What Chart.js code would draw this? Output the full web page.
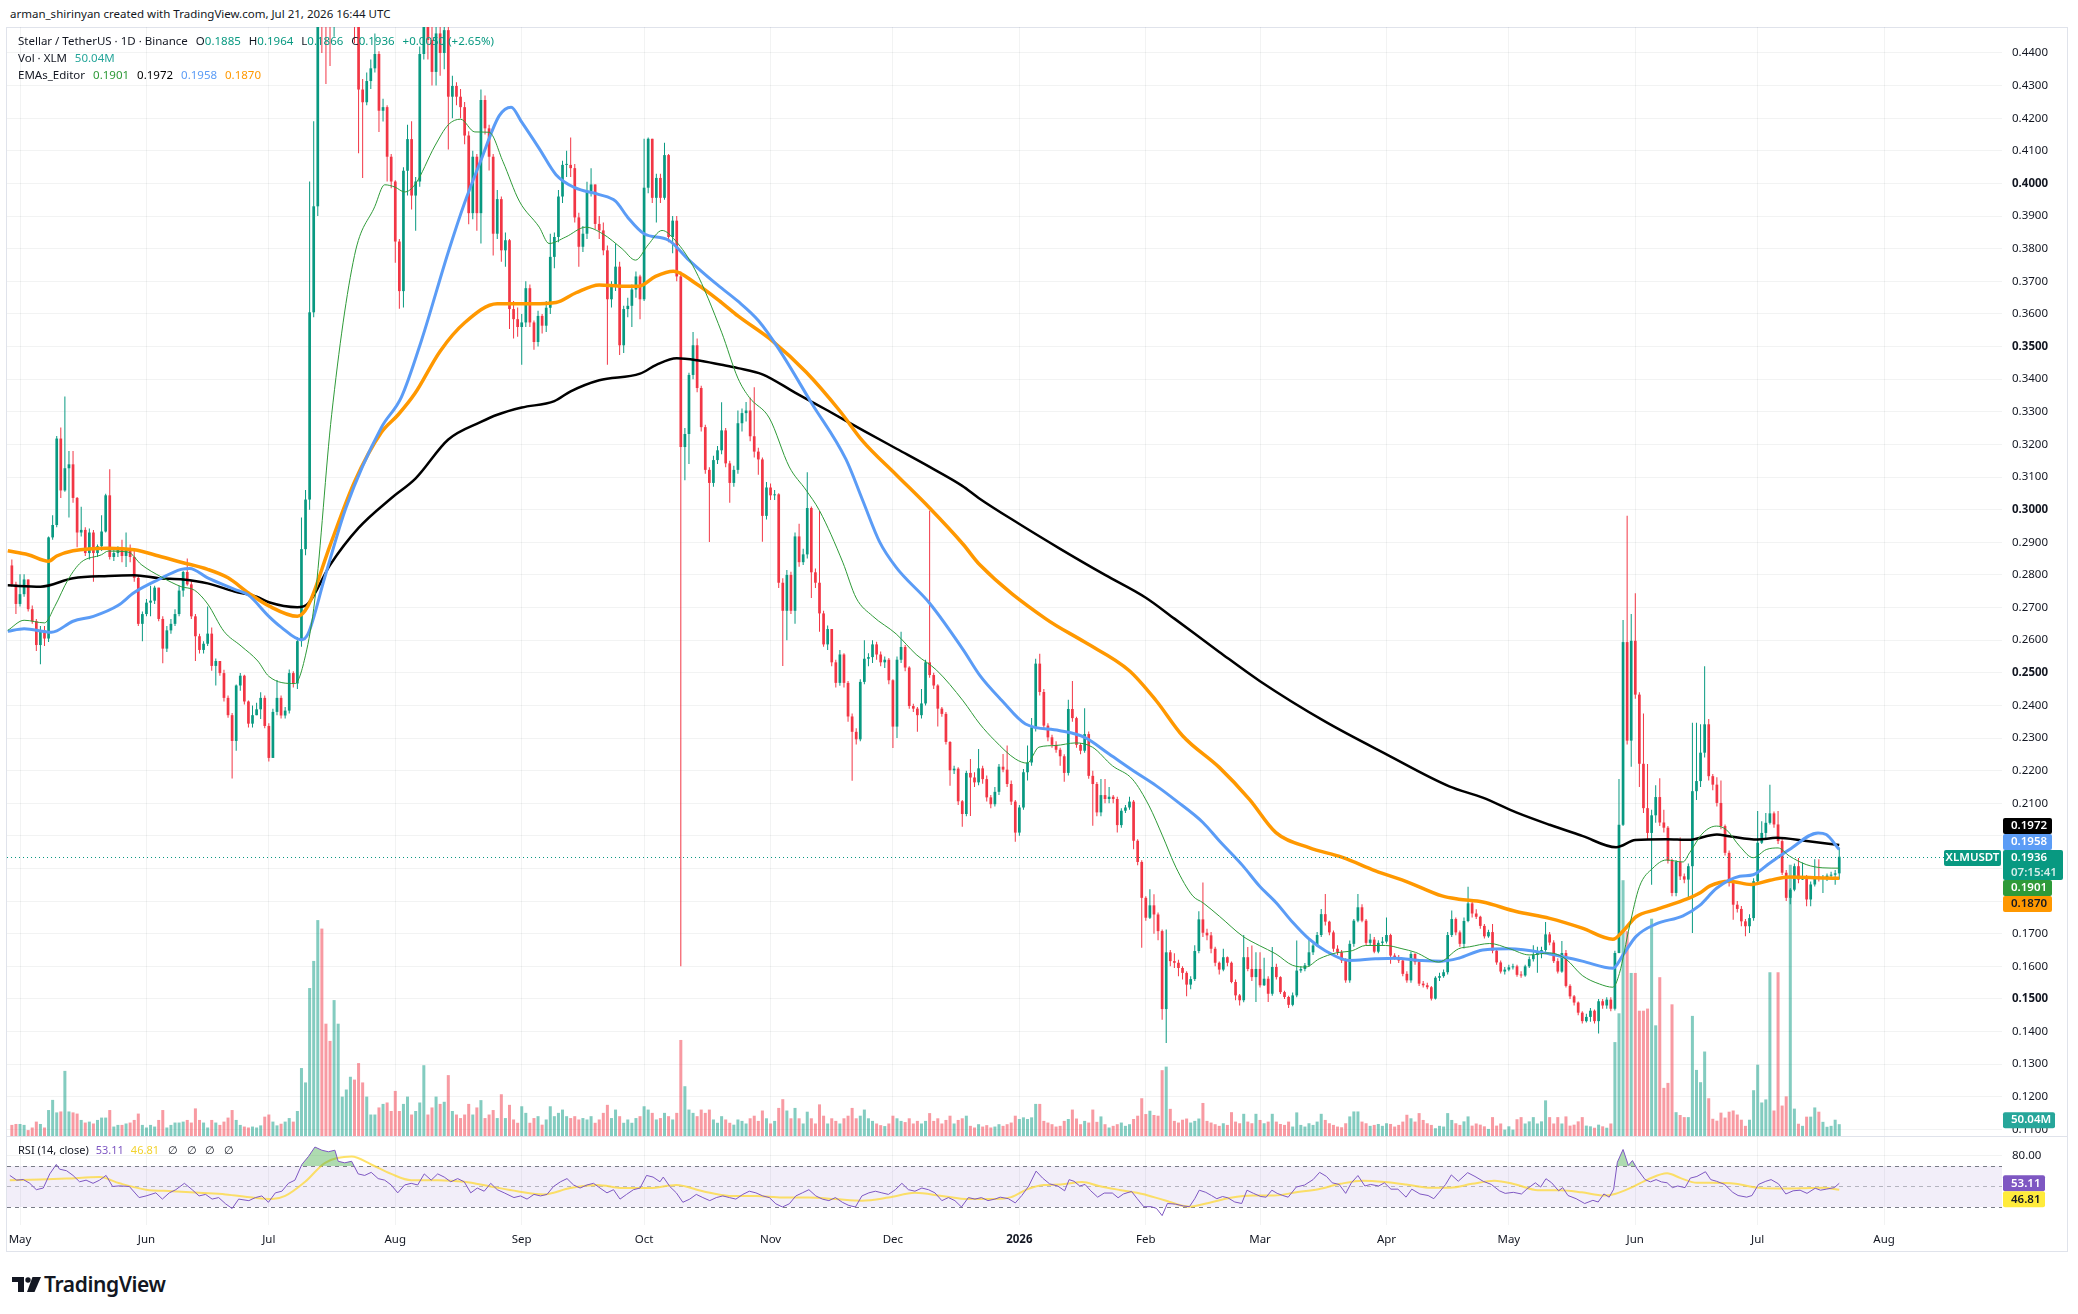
<!DOCTYPE html>
<html lang="en">
<head>
<meta charset="utf-8">
<title>Stellar / TetherUS 1D</title>
<script src="https://cdn.jsdelivr.net/npm/chart.js@4.4.1/dist/chart.umd.min.js"></script>
<style>
  html, body { margin: 0; padding: 0; background: #ffffff; }
  body {
    width: 2078px; height: 1314px; position: relative; overflow: hidden;
    font-family: "Noto Sans", "Open Sans", sans-serif; color: #131722;
  }
  .abs { position: absolute; }
  #header { left: 10px; top: 6px; font-size: 11.5px; white-space: nowrap; }
  #frame { left: 6px; top: 27px; width: 2062px; height: 1225px; border: 1px solid #e0e3eb; box-sizing: border-box; }
  #paneLine { left: 6px; top: 1136px; width: 2062px; height: 1px; background: #e0e3eb; }
  #mainBox { left: 7px; top: 27px; width: 2061px; height: 1109px; }
  #rsiBox { left: 7px; top: 1137px; width: 2061px; height: 115px; }
  #legend { left: 18px; top: 32px; font-size: 11.5px; line-height: 17px; white-space: nowrap; z-index: 3; }
  #legend .g { color: #089981; }
  #legend span.k { margin-left: 8px; }
  #rsiLegend { left: 18px; top: 1142px; font-size: 11px; line-height: 16px; white-space: nowrap; z-index: 3; }
  #logo { left: 12px; top: 1277px; }
  #logoText { left: 44px; top: 1270px; font-size: 21px; line-height: 28px; font-weight: 600; letter-spacing: -0.4px; }
</style>
</head>
<body>
<div id="header" class="abs">arman_shirinyan created with TradingView.com, Jul 21, 2026 16:44 UTC</div>
<div id="frame" class="abs"></div>
<div id="mainBox" class="abs"><canvas id="mainChart"></canvas></div>
<div id="paneLine" class="abs"></div>
<div id="rsiBox" class="abs"><canvas id="rsiChart"></canvas></div>
<div id="legend" class="abs">
  <div>Stellar / TetherUS · 1D · Binance<span class="k">O</span><span class="g">0.1885</span><span class="k">H</span><span class="g">0.1964</span><span class="k">L</span><span class="g">0.1866</span><span class="k">C</span><span class="g">0.1936</span><span class="k g">+0.0050 (+2.65%)</span></div>
  <div>Vol · XLM<span class="k" style="color:#26a69a">50.04M</span></div>
  <div>EMAs_Editor<span class="k" style="color:#2e9a38">0.1901</span><span class="k" style="color:#000000">0.1972</span><span class="k" style="color:#5b9cf6">0.1958</span><span class="k" style="color:#ff9800">0.1870</span></div>
</div>
<div id="rsiLegend" class="abs">RSI (14, close)<span style="margin-left:7px;color:#7e57c2">53.11</span><span style="margin-left:7px;color:#f2d22e">46.81</span><span style="margin-left:9px">∅&nbsp;&nbsp;&nbsp;∅&nbsp;&nbsp;&nbsp;∅&nbsp;&nbsp;&nbsp;∅</span></div>
<svg id="logo" class="abs" width="30" height="15" viewBox="0 0 30 15">
  <path d="M0 0 H12 V15 H6 V5 H0 Z" fill="#131722"/>
  <circle cx="16" cy="3" r="2.7" fill="#131722"/>
  <path d="M20.5 0 H29 L22.5 15 H15 Z" fill="#131722"/>
</svg>
<div id="logoText" class="abs">TradingView</div>

<script>
// day index 0 = 1 May 2025, one candle per day, first candle is day -2
const startDay = -2;
const firstOpen = .2829;

const closes = [
  .2771,.2711,.2741,.2786,.2695,.2658,.2585,.2630,.2605,.2915,
  .2953,.3218,.3059,.3127,.3139,.3036,.2930,.2938,.2867,.2930,
  .2867,.2888,.2933,.3044,.2855,.2867,.2882,.2858,.2882,.2855,
  .2791,.2650,.2680,.2715,.2721,.2761,.2665,.2574,.2630,.2650,
  .2680,.2752,.2809,.2771,.2673,.2612,.2570,.2589,.2620,.2521,
  .2536,.2499,.2423,.2370,.2291,.2461,.2491,.2412,.2344,.2370,
  .2388,.2423,.2337,.2239,.2380,.2423,.2369,.2384,.2499,.2467,
  .2597,.2879,.3031,.3605,.3930,.4700,.4600,.4520,.4480,.4650,
  .4780,.4790,.4820,.4850,.4700,.4288,.4249,.4314,.4353,.4397,
  .4223,.4234,.4082,.4006,.3822,.3670,.4039,.4136,.3963,.4006,
  .4397,.4483,.4440,.4342,.4460,.4400,.4470,.4266,.4299,.4266,
  .4234,.4147,.3909,.4082,.3909,.4256,.4169,.4082,.3846,.3952,
  .3795,.3826,.3615,.3584,.3560,.3574,.3679,.3574,.3514,.3594,
  .3564,.3619,.3775,.3836,.3960,.4057,.4057,.4047,.3896,.3806,
  .3846,.3977,.3997,.3876,.3856,.3795,.3645,.3685,.3745,.3504,
  .3615,.3625,.3675,.3715,.3645,.3987,.4137,.3956,.4017,.3956,
  .4087,.3836,.3886,.3715,.3192,.3232,.3413,.3504,.3373,.3253,
  .3122,.3082,.3152,.3182,.3243,.3142,.3082,.3122,.3265,.3296,
  .3304,.3225,.3178,.3154,.2981,.3068,.3044,.3047,.2776,.2690,
  .2800,.2690,.2918,.2839,.2863,.3005,.2808,.2776,.2682,.2587,
  .2634,.2532,.2469,.2556,.2469,.2366,.2319,.2296,.2472,.2543,
  .2548,.2587,.2556,.2532,.2540,.2477,.2335,.2540,.2579,.2516,
  .2398,.2390,.2370,.2406,.2532,.2493,.2461,.2390,.2374,.2288,
  .2201,.2206,.2106,.2067,.2193,.2179,.2164,.2207,.2174,.2118,
  .2097,.2135,.2212,.2203,.2159,.2105,.2010,.2087,.2195,.2225,
  .2333,.2528,.2441,.2338,.2302,.2279,.2264,.2244,.2193,.2389,
  .2361,.2279,.2261,.2312,.2184,.2159,.2072,.2125,.2113,.2120,
  .2113,.2033,.2077,.2087,.2105,.1985,.1920,.1810,.1749,.1787,
  .1759,.1708,.1469,.1643,.1616,.1611,.1595,.1580,.1544,.1561,
  .1647,.1744,.1703,.1695,.1654,.1611,.1590,.1628,.1611,.1552,
  .1511,.1496,.1628,.1592,.1567,.1592,.1542,.1562,.1516,.1598,
  .1567,.1521,.1506,.1482,.1511,.1587,.1592,.1603,.1643,.1664,
  .1696,.1760,.1737,.1704,.1654,.1643,.1618,.1557,.1669,.1740,
  .1781,.1740,.1672,.1682,.1645,.1672,.1676,.1696,.1633,.1628,
  .1618,.1577,.1557,.1638,.1613,.1547,.1542,.1536,.1501,.1565,
  .1570,.1582,.1696,.1745,.1704,.1669,.1739,.1793,.1762,.1752,
  .1724,.1692,.1705,.1648,.1612,.1584,.1590,.1597,.1600,.1574,
  .1572,.1600,.1622,.1635,.1641,.1650,.1698,.1673,.1616,.1584,
  .1641,.1540,.1508,.1489,.1458,.1432,.1445,.1464,.1432,.1493,
  .1480,.1498,.1470,.1641,.2034,.2594,.2292,.2598,.2433,.2221,
  .2085,.2009,.2063,.2119,.2041,.2025,.1924,.1825,.1920,.1876,
  .1866,.1907,.2137,.2168,.2255,.2342,.2183,.2157,.2101,.2030,
  .1948,.1856,.1789,.1776,.1738,.1723,.1748,.1861,.1979,.2009,
  .2040,.2069,.2035,.1984,.1887,.1810,.1835,.1907,.1866,.1876,
  .1805,.1851,.1876,.1868,.1871,.1878,.1881,.1885,.1936
];

const highs = [
  .2847,.2779,.2802,.2802,.2752,.2706,.2665,.2643,.2643,.2918,
  .2983,.3226,.3252,.3347,.3180,.3180,.3039,.3009,.2946,.2942,
  .2938,.2893,.2983,.3049,.3124,.2885,.2888,.2908,.2930,.2893,
  .2873,.2797,.2688,.2726,.2767,.2767,.2741,.2673,.2643,.2665,
  .2695,.2767,.2812,.2850,.2782,.2680,.2620,.2597,.2703,.2639,
  .2544,.2533,.2509,.2430,.2377,.2464,.2499,.2494,.2415,.2400,
  .2408,.2440,.2430,.2345,.2390,.2478,.2430,.2395,.2510,.2505,
  .2610,.2976,.3060,.4006,.4191,.4900,.5200,.4800,.4650,.4750,
  .4950,.4900,.4950,.4980,.4900,.4720,.4320,.4340,.4380,.4460,
  .4405,.4260,.4240,.4090,.4010,.3830,.4050,.4180,.4191,.4020,
  .4420,.4560,.4600,.4510,.4530,.4520,.4560,.4500,.4330,.4310,
  .4290,.4250,.4160,.4100,.4090,.4288,.4270,.4180,.4090,.3980,
  .3960,.3850,.3830,.3640,.3620,.3600,.3700,.3690,.3580,.3610,
  .3600,.3640,.3846,.3850,.3980,.4070,.4100,.4141,.4060,.3910,
  .3870,.4005,.4047,.3997,.3900,.3880,.3810,.3700,.3816,.3760,
  .3625,.3650,.3690,.3730,.3720,.4137,.4141,.4137,.4030,.4030,
  .4125,.4090,.3900,.3900,.3730,.3250,.3420,.3545,.3525,.3380,
  .3260,.3130,.3165,.3195,.3329,.3250,.3150,.3135,.3304,.3310,
  .3330,.3344,.3375,.3190,.3160,.3085,.3080,.3060,.3050,.2790,
  .2815,.2810,.2930,.2957,.2880,.3115,.3010,.2820,.2997,.2690,
  .2645,.2626,.2540,.2570,.2560,.2475,.2375,.2330,.2480,.2600,
  .2560,.2600,.2595,.2565,.2550,.2545,.2480,.2550,.2626,.2585,
  .2520,.2405,.2395,.2450,.2540,.2997,.2500,.2465,.2395,.2380,
  .2290,.2215,.2210,.2110,.2200,.2236,.2195,.2266,.2215,.2185,
  .2125,.2150,.2220,.2251,.2277,.2170,.2110,.2095,.2205,.2277,
  .2361,.2543,.2558,.2450,.2345,.2310,.2290,.2270,.2250,.2417,
  .2475,.2365,.2285,.2391,.2320,.2200,.2165,.2174,.2174,.2150,
  .2125,.2120,.2085,.2095,.2120,.2110,.1990,.1925,.1815,.1836,
  .1821,.1765,.1713,.1713,.1650,.1640,.1620,.1600,.1585,.1570,
  .1665,.1769,.1857,.1715,.1705,.1660,.1615,.1654,.1630,.1615,
  .1560,.1515,.1696,.1659,.1664,.1643,.1643,.1626,.1570,.1659,
  .1608,.1570,.1525,.1510,.1520,.1679,.1600,.1610,.1682,.1670,
  .1705,.1776,.1822,.1740,.1710,.1665,.1650,.1625,.1679,.1745,
  .1822,.1790,.1745,.1700,.1690,.1680,.1690,.1750,.1700,.1640,
  .1635,.1625,.1585,.1645,.1640,.1620,.1555,.1550,.1540,.1570,
  .1580,.1590,.1705,.1771,.1750,.1710,.1750,.1844,.1800,.1775,
  .1755,.1730,.1712,.1730,.1652,.1618,.1598,.1605,.1608,.1605,
  .1585,.1605,.1630,.1665,.1660,.1660,.1736,.1705,.1680,.1625,
  .1678,.1650,.1545,.1512,.1492,.1462,.1455,.1472,.1468,.1500,
  .1500,.1505,.1505,.1648,.2174,.2662,.2981,.2680,.2744,.2440,
  .2375,.2220,.2080,.2155,.2177,.2080,.2030,.1930,.1925,.1995,
  .1885,.1915,.2347,.2347,.2342,.2520,.2358,.2190,.2180,.2170,
  .2035,.1955,.1860,.1800,.1785,.1745,.1760,.1870,.2076,.2045,
  .2070,.2157,.2075,.2076,.1990,.1895,.1840,.1915,.1932,.1918,
  .1880,.1860,.1928,.1928,.1880,.1885,.1890,.1895,.1964
];

const lows = [
  .2764,.2680,.2703,.2733,.2688,.2650,.2567,.2526,.2582,.2594,
  .2908,.2946,.3036,.3055,.2976,.3021,.2885,.2918,.2858,.2847,
  .2779,.2855,.2873,.2930,.2847,.2843,.2855,.2839,.2824,.2839,
  .2779,.2643,.2597,.2673,.2673,.2711,.2658,.2529,.2564,.2620,
  .2643,.2673,.2733,.2767,.2665,.2536,.2559,.2559,.2582,.2506,
  .2461,.2491,.2412,.2362,.2176,.2261,.2445,.2403,.2332,.2332,
  .2370,.2358,.2330,.2228,.2250,.2370,.2360,.2360,.2375,.2455,
  .2450,.2580,.2860,.3000,.3590,.3900,.4400,.4305,.4360,.4450,
  .4600,.4620,.4650,.4680,.4430,.4093,.4017,.4240,.4290,.4340,
  .4158,.4190,.4006,.3985,.3757,.3616,.3620,.3963,.3920,.3855,
  .3990,.4380,.4380,.4300,.4300,.4330,.4350,.4104,.4200,.4240,
  .4200,.4120,.3875,.3890,.3855,.3816,.4150,.4040,.3779,.3830,
  .3760,.3745,.3554,.3525,.3530,.3444,.3560,.3560,.3490,.3500,
  .3540,.3545,.3600,.3740,.3820,.3940,.4020,.4020,.3880,.3745,
  .3790,.3830,.3960,.3860,.3830,.3780,.3444,.3620,.3670,.3474,
  .3480,.3590,.3560,.3650,.3584,.3640,.3970,.3940,.3880,.3940,
  .3950,.3820,.3786,.3700,.1600,.3090,.3140,.3400,.3360,.3240,
  .3110,.2901,.3070,.3140,.3170,.3130,.3021,.3070,.3110,.3240,
  .3270,.3210,.3160,.3107,.2902,.2970,.3030,.3030,.2760,.2521,
  .2600,.2680,.2650,.2825,.2830,.2850,.2729,.2760,.2626,.2580,
  .2570,.2520,.2455,.2460,.2455,.2350,.2169,.2280,.2290,.2465,
  .2520,.2530,.2540,.2520,.2515,.2465,.2269,.2300,.2530,.2505,
  .2390,.2380,.2319,.2360,.2400,.2485,.2450,.2335,.2365,.2280,
  .2154,.2190,.2095,.2028,.2060,.2061,.2150,.2155,.2160,.2105,
  .2085,.2090,.2125,.2195,.2150,.2095,.1982,.2000,.2080,.2170,
  .2215,.2320,.2430,.2330,.2290,.2270,.2255,.2215,.2166,.2185,
  .2350,.2270,.2250,.2255,.2175,.2031,.2060,.2060,.2100,.2100,
  .2100,.2010,.2025,.2070,.2080,.1959,.1910,.1657,.1740,.1745,
  .1700,.1680,.1436,.1365,.1600,.1595,.1570,.1560,.1508,.1530,
  .1555,.1640,.1690,.1680,.1640,.1600,.1575,.1585,.1600,.1548,
  .1496,.1480,.1490,.1585,.1555,.1491,.1535,.1540,.1491,.1510,
  .1560,.1515,.1500,.1472,.1478,.1505,.1580,.1585,.1598,.1635,
  .1660,.1690,.1725,.1695,.1645,.1635,.1610,.1550,.1550,.1660,
  .1735,.1735,.1665,.1665,.1640,.1640,.1665,.1670,.1608,.1620,
  .1610,.1570,.1550,.1550,.1605,.1540,.1535,.1530,.1495,.1498,
  .1555,.1565,.1575,.1690,.1695,.1660,.1655,.1735,.1750,.1745,
  .1715,.1685,.1688,.1640,.1605,.1578,.1575,.1585,.1590,.1568,
  .1565,.1568,.1595,.1615,.1580,.1625,.1645,.1665,.1610,.1578,
  .1580,.1535,.1500,.1480,.1450,.1425,.1428,.1430,.1425,.1394,
  .1470,.1470,.1462,.1465,.1640,.2030,.2280,.2212,.2420,.2150,
  .2070,.1990,.1850,.2040,.2030,.2010,.1915,.1815,.1815,.1865,
  .1855,.1812,.1702,.2110,.2150,.2240,.2170,.2140,.2090,.2020,
  .1940,.1845,.1743,.1765,.1723,.1692,.1702,.1740,.1855,.1975,
  .1990,.2035,.2025,.1975,.1880,.1800,.1790,.1830,.1855,.1865,
  .1784,.1784,.1845,.1860,.1825,.1862,.1870,.1850,.1866
];

// volume in millions of XLM
const volumes = [
  47,51,51,47,25,36,61,51,36,110,
  153,100,104,276,104,100,95,68,57,61,
  53,68,78,78,110,40,47,47,53,57,
  68,95,47,36,47,40,68,110,36,47,
  57,57,61,68,57,117,68,57,36,68,
  57,47,61,78,110,68,47,40,36,40,
  36,45,82,91,61,45,52,61,76,61,
  106,288,227,627,742,915,879,476,403,576,
  476,167,197,251,239,309,227,167,91,91,
  121,136,142,106,191,106,136,167,91,106,
  142,300,91,121,167,136,145,258,106,91,
  76,91,136,91,121,152,76,91,110,76,
  177,76,132,70,56,126,98,56,76,84,
  48,70,126,84,98,112,84,76,84,70,
  76,70,84,56,70,98,132,76,112,84,
  56,70,56,76,84,126,112,98,70,76,
  98,84,70,98,407,211,112,98,84,112,
  98,112,70,56,84,70,56,48,70,64,
  53,75,86,64,108,75,53,64,119,156,
  108,75,119,75,53,103,75,53,134,86,
  53,75,64,53,75,86,119,75,86,112,
  75,64,53,46,42,53,86,75,64,59,
  75,53,64,53,64,97,64,75,53,68,
  86,53,68,75,86,43,36,50,40,46,
  36,40,50,43,50,57,86,72,79,72,
  79,136,136,64,57,50,40,43,64,72,
  112,74,50,64,57,112,60,83,50,36,
  43,50,57,43,50,72,86,160,93,107,
  89,86,279,294,115,64,57,69,74,57,
  64,74,140,64,57,50,43,54,47,101,
  61,54,94,61,54,94,68,54,61,94,
  61,51,47,61,40,100,47,40,54,47,
  61,94,68,54,47,40,37,54,83,104,
  104,61,54,43,47,51,43,54,51,40,
  47,61,90,75,61,97,68,54,47,33,
  43,40,97,68,54,47,62,83,44,53,
  48,41,30,80,44,53,27,41,27,71,
  80,53,62,80,53,62,151,80,53,80,
  53,83,44,48,62,80,44,41,35,48,
  41,35,53,398,520,1084,868,691,691,531,
  531,540,921,469,673,204,225,558,101,89,
  80,80,509,280,228,358,160,73,65,99,
  78,103,108,91,69,43,69,194,302,142,
  155,694,108,694,129,168,1150,116,52,43,
  82,82,121,103,60,39,43,69,50.04
];

// moving averages as [day, value]
const ema20 = [
  [-3,.2630],[1,.2661],[6,.2653],[8.5,.2703],[11.8,.2786],[15,.2839],[20,.2862],[21.6,.2873],[26.5,.2870],
  [29.7,.2832],[34.6,.2794],[39.5,.2764],[42.8,.2753],[46,.2711],[50,.2627],[54.2,.2582],[58.3,.2536],
  [61,.2489],[67.4,.2467],[70,.2554],[72.3,.2727],[76.4,.3291],[82,.3779],[87,.3930],[89.4,.3996],
  [91.9,.3989],[94.3,.3974],[96.8,.3996],[101.7,.4115],[105,.4180],[108,.4197],[111.5,.4158],[115,.4157],
  [118.4,.4067],[122.4,.3946],[127.3,.3866],[129.7,.3816],[133.8,.3836],[138.7,.3866],[142.8,.3846],
  [147.6,.3800],[150.9,.3765],[154,.3812],[157.4,.3856],[160.6,.3826],[165.5,.3735],[172,.3544],
  [176,.3403],[178.8,.3344],[183.7,.3281],[188.6,.3131],[192.7,.3060],[196,.2997],[201.7,.2839],
  [205,.2729],[209,.2674],[214.8,.2619],[219.7,.2556],[224.7,.2508],[231.2,.2414],[235.3,.2343],
  [239,.2292],[244,.2236],[246.9,.2223],[249.8,.2272],[253.9,.2277],[258.8,.2285],[262.9,.2272],
  [267.8,.2215],[272.7,.2174],[276.8,.2092],[280.1,.2000],[283.4,.1903],[287.5,.1816],[290,.1795],
  [294,.1754],[299.8,.1692],[303.8,.1664],[307.9,.1638],[312,.1603],[315.2,.1598],[318.5,.1623],
  [322.6,.1641],[326.6,.1648],[329.9,.1664],[334.8,.1664],[338.8,.1654],[342.1,.1643],[347.8,.1613],
  [352.7,.1654],[355.4,.1660],[360.3,.1670],[365.2,.1654],[370,.1635],[375,.1641],[379,.1622],
  [383,.1572],[387.2,.1546],[390.5,.1536],[392.1,.1578],[394.6,.1724],[397,.1844],[400.3,.1901],
  [403.6,.1926],[407.7,.1920],[409.3,.1948],[412.6,.2009],[415.9,.2030],[418.3,.2019],[421.6,.1968],
  [424.9,.1933],[428.1,.1958],[431,.1963],[433.8,.1938],[437.9,.1912],[442,.1902],[446,.1901]
];

const ema50 = [
  [-3,.2627],[1,.2635],[7.7,.2624],[13,.2658],[18,.2673],[24,.2706],[28,.2746],[34,.2786],[39.5,.2817],
  [41.6,.2820],[46,.2791],[52.6,.2756],[56,.2738],[61,.2673],[64,.2640],[69,.2601],[70.6,.2619],
  [74.7,.2792],[80,.3009],[88.6,.3252],[93.5,.3345],[98.4,.3518],[105,.3790],[109,.3941],[113,.4071],
  [117.5,.4208],[120.4,.4234],[123,.4188],[127.3,.4107],[131.4,.4027],[136,.3987],[142,.3966],
  [146,.3946],[149,.3896],[153,.3846],[159,.3826],[164,.3765],[170.4,.3695],[176,.3639],[181,.3580],
  [186,.3493],[194,.3328],[202.5,.3154],[206.6,.3028],[210.7,.2902],[214.8,.2823],[223,.2713],
  [231.2,.2571],[235.3,.2492],[240.7,.2415],[246.5,.2343],[254.7,.2323],[261,.2302],[267,.2251],
  [273.5,.2195],[278.5,.2154],[283.4,.2108],[290,.2041],[294,.1985],[299.8,.1908],[303.8,.1847],
  [307.9,.1796],[312,.1735],[316,.1684],[320,.1648],[325.8,.1618],[332.3,.1623],[337,.1625],
  [343.7,.1618],[348.6,.1616],[352.7,.1625],[358.6,.1650],[365,.1654],[375,.1638],[383,.1616],
  [390.5,.1594],[393,.1635],[396.2,.1692],[401.1,.1730],[407.7,.1755],[411.8,.1787],[416,.1840],
  [421.6,.1876],[424.9,.1881],[429,.1917],[433.8,.1958],[440.8,.2009],[442.8,.2004],[446,.1958]
];

const ema100 = [
  [-3,.2874],[2,.2862],[7,.2842],[9,.2858],[13,.2874],[21.6,.2882],[28,.2877],[34,.2858],[39.5,.2839],
  [46,.2817],[51,.2791],[56,.2745],[61,.2705],[68,.2673],[70.6,.2705],[76,.2890],[82,.3085],
  [88.6,.3237],[92.7,.3291],[96.8,.3356],[103,.3486],[109,.3573],[117,.3631],[125.7,.3631],
  [131.4,.3635],[136.3,.3665],[142,.3689],[147.6,.3685],[151.7,.3685],[155.8,.3715],[160.2,.3731],
  [165.5,.3695],[172,.3635],[176,.3594],[184.5,.3517],[192.7,.3422],[200.9,.3304],[206.6,.3210],
  [214.8,.3107],[223,.3005],[231.2,.2894],[235.3,.2831],[251.4,.2666],[261,.2594],[271.9,.2507],
  [278.5,.2415],[285,.2307],[294,.2210],[301.4,.2112],[307.9,.2010],[316,.1964],[324.2,.1934],
  [332.3,.1893],[340.5,.1857],[348.6,.1816],[352.7,.1806],[358.6,.1797],[366.8,.1768],[375,.1747],
  [383,.1717],[390.5,.1683],[393,.1708],[396.2,.1752],[401.1,.1774],[407.7,.1802],[411.8,.1825],
  [414.2,.1846],[419.1,.1861],[424.4,.1851],[429,.1864],[433.8,.1874],[442,.1871],[446,.1870]
];

const ema200 = [
  [-3,.2768],[5,.2764],[13,.2790],[21.6,.2797],[28,.2799],[34,.2790],[40,.2786],[46,.2774],[52.6,.2749],
  [58,.2733],[61,.2716],[68,.2701],[70.6,.2712],[76,.2830],[83,.2944],[91,.3035],[97,.3096],[105,.3215],
  [113,.3269],[117,.3291],[123,.3313],[131,.3333],[135,.3363],[142,.3397],[152,.3417],[156,.3444],
  [161,.3464],[166,.3458],[172,.3444],[176,.3434],[182,.3415],[190,.3359],[198,.3304],[207,.3241],
  [215,.3186],[223,.3131],[231,.3073],[235,.3036],[245,.2956],[255,.2880],[266,.2800],[276,.2730],
  [283,.2666],[294,.2564],[304,.2474],[320,.2350],[335,.2250],[350.4,.2152],[358.6,.2117],
  [366.8,.2072],[375,.2034],[383,.2000],[391.3,.1965],[396,.1987],[403.6,.1990],[409,.1988],
  [416,.2004],[419,.1999],[426,.1989],[430.6,.1994],[438,.1984],[446,.1972]
];

const rsiLine = [
  [-2.5,60.8],[-0.8,56.2],[0.8,56.8],[2.4,53.1],[4.0,46.9],[5.7,48.5],[7.3,62.3],[8.9,71.5],[9.7,66.9],
  [11.4,65.4],[13.0,60.8],[14.6,54.6],[16.2,56.2],[17.9,53.1],[19.5,56.2],[21.1,60.8],[22.7,50.0],
  [24.4,50.6],[26.8,50.0],[29.2,39.2],[30.9,40.8],[33.3,43.8],[34.9,37.7],[36.6,43.8],[38.2,46.9],
  [40.3,53.1],[42.2,46.9],[43.9,40.8],[45.5,42.3],[47.1,37.7],[48.7,39.2],[50.4,33.1],[52.0,28.5],
  [53.6,37.7],[56.1,36.2],[57.7,39.2],[59.3,40.8],[60.9,34.6],[62.6,43.8],[64.2,45.4],[65.8,53.1],
  [67.4,56.2],[69.1,71.5],[70.7,79.2],[72.3,88.5],[74.0,85.4],[75.6,83.9],[77.2,85.4],[78.0,74.6],
  [79.6,73.1],[81.3,74.6],[82.9,62.3],[84.5,60.8],[86.1,63.8],[87.8,57.7],[89.4,56.2],[91.0,51.5],
  [92.6,43.8],[94.3,51.5],[95.9,53.1],[97.5,51.5],[99.1,62.3],[100.8,56.2],[102.4,62.3],[104.0,59.2],
  [105.6,54.6],[107.3,57.7],[108.9,54.6],[110.5,43.8],[112.1,48.5],[113.8,45.4],[115.4,53.1],
  [117.0,46.9],[118.7,43.8],[121.1,39.2],[122.7,40.8],[124.3,37.7],[126.0,42.3],[127.6,40.8],
  [129.2,42.3],[130.8,50.0],[132.5,54.6],[134.1,57.7],[135.7,51.5],[137.3,48.5],[139.0,51.5],
  [140.6,53.1],[142.2,48.5],[143.9,43.8],[145.5,46.9],[147.1,37.7],[148.7,42.3],[150.4,46.9],
  [152.0,48.5],[153.6,60.8],[155.2,59.2],[156.9,54.6],[157.7,59.2],[159.3,50.0],[160.9,43.8],
  [162.5,34.6],[164.2,37.7],[165.8,42.3],[167.4,39.2],[169.1,36.2],[170.7,39.2],[172.3,40.8],
  [173.9,39.2],[175.5,37.7],[177.2,42.3],[178.8,45.4],[180.4,43.8],[182.1,40.8],[183.7,39.2],
  [185.3,33.1],[186.9,30.0],[188.6,33.1],[190.2,40.8],[191.8,43.8],[193.4,46.9],[195.1,40.8],
  [196.7,37.7],[198.3,36.2],[199.9,39.2],[201.6,34.6],[203.2,31.5],[204.8,30.0],[206.4,40.8],
  [208.1,43.8],[209.7,45.4],[211.3,43.8],[212.9,42.3],[214.6,46.9],[216.2,53.1],[217.8,46.9],
  [219.4,45.4],[221.1,48.5],[222.7,46.9],[224.3,43.8],[226.0,36.2],[227.6,39.2],[229.2,36.2],
  [230.8,30.0],[232.5,39.2],[234.1,37.7],[235.7,39.2],[237.3,36.2],[239.0,37.7],[240.3,39.6],
  [242.3,38.1],[244.0,34.0],[245.6,41.2],[247.3,50.5],[249.1,65.0],[250.7,58.2],[252.4,52.6],
  [254.4,50.5],[256.1,45.8],[257.2,56.7],[258.4,55.1],[259.8,50.5],[261.1,52.0],[262.5,45.8],
  [264.2,39.6],[265.8,43.6],[267.8,43.6],[269.2,39.0],[270.5,42.7],[272.5,45.2],[273.9,38.1],
  [275.5,30.3],[277.3,30.3],[278.6,28.7],[280.0,21.6],[281.3,33.4],[283.3,32.8],[285.3,30.9],
  [286.7,30.3],[288.0,38.1],[289.1,46.4],[290.7,44.3],[292.1,41.2],[293.4,38.1],[294.8,40.2],
  [296.1,39.0],[297.8,34.9],[299.5,33.4],[300.8,46.4],[302.4,43.3],[304.2,40.2],[305.5,39.6],
  [306.9,46.4],[308.2,43.3],[309.6,41.2],[310.9,39.6],[312.9,49.5],[314.9,51.4],[317.0,56.7],
  [318.6,63.8],[320.3,59.8],[321.7,53.6],[323.4,52.0],[325.0,43.3],[326.4,53.6],[328.0,60.7],
  [329.7,50.5],[331.1,52.0],[333.1,50.5],[334.5,53.6],[336.1,47.4],[337.8,47.4],[339.8,39.6],
  [341.2,47.4],[343.2,42.7],[345.2,41.2],[346.6,38.1],[347.9,44.3],[349.5,52.0],[350.9,61.3],
  [352.6,55.1],[354.9,63.5],[356.7,59.8],[358.7,55.1],[360.7,52.0],[362.7,45.8],[364.1,43.3],
  [366.1,44.3],[368.1,42.7],[369.4,47.4],[371.5,53.6],[372.8,49.5],[374.1,57.6],[375.5,53.6],
  [377.2,45.8],[378.2,48.9],[379.5,41.2],[381.5,38.1],[383.6,33.4],[385.6,36.5],[386.9,34.9],
  [388.3,42.7],[389.6,39.6],[390.7,47.4],[391.6,73.7],[393.0,86.1],[394.3,70.6],[395.3,75.3],
  [396.4,67.5],[398.4,56.7],[399.7,54.5],[401.1,56.7],[402.4,54.5],[403.8,53.6],[405.1,48.9],
  [406.4,50.5],[408.2,48.9],[409.5,58.2],[411.1,59.8],[413.2,64.4],[414.5,56.7],[415.9,55.1],
  [417.9,52.0],[419.9,44.3],[421.2,41.2],[423.3,39.6],[424.6,41.2],[426.2,52.0],[428.0,55.1],
  [429.3,56.7],[431.1,52.6],[432.9,42.7],[434.7,45.8],[436.4,46.4],[438.1,43.3],[440.1,48.3],
  [441.4,46.4],[442.8,47.4],[444.8,48.9],[446,53.11]
];

const rsiMa = [
  [-2.5,56.2],[4.9,56.8],[11.4,57.7],[19.5,59.2],[24.4,53.1],[30.9,46.9],[37.4,45.4],[43.9,43.8],
  [50.4,42.3],[56.9,39.2],[61.8,37.7],[65.0,40.8],[69.9,54.6],[74.8,73.1],[81.3,79.2],[86.1,71.5],
  [91.0,62.3],[95.9,56.2],[102.4,56.2],[108.9,54.6],[115.4,50.0],[121.9,45.4],[128.4,42.3],
  [134.9,48.5],[141.4,51.5],[147.9,48.5],[154.4,48.5],[160.9,51.5],[167.4,45.4],[173.9,40.8],
  [180.4,40.8],[186.9,39.2],[193.4,39.2],[199.9,37.7],[206.4,36.2],[212.9,39.2],[219.4,43.8],
  [226.0,40.8],[232.5,37.7],[239.0,37.7],[243.0,39.6],[247.0,47.4],[251.0,51.4],[255.1,52.0],
  [260.4,54.5],[264.5,50.5],[269.9,46.4],[275.2,42.7],[280.6,36.5],[286.7,30.3],[291.4,34.0],
  [296.8,39.0],[302.2,41.2],[307.5,41.2],[312.9,44.3],[318.3,47.4],[323.7,52.6],[329.1,55.7],
  [334.5,54.5],[339.8,52.0],[345.2,48.9],[350.6,48.9],[356.0,52.6],[361.4,55.7],[366.7,52.0],
  [372.1,46.4],[377.5,46.4],[382.9,44.3],[388.3,41.2],[391.0,42.7],[395.0,48.9],[399.0,56.7],
  [403.8,62.9],[407.1,58.2],[411.1,53.6],[415.2,53.6],[420.6,52.6],[425.9,48.9],[431.3,48.0],
  [436.7,48.3],[442.1,48.9],[446,46.81]
];

const monthStarts = [0, 31, 61, 92, 123, 153, 184, 214, 245, 276, 304, 335, 365, 396, 426, 457];
const monthLabels = ["May", "Jun", "Jul", "Aug", "Sep", "Oct", "Nov", "Dec", "2026", "Feb", "Mar", "Apr", "May", "Jun", "Jul", "Aug"];
const priceTicks = [
  0.11, 0.12, 0.13, 0.14, 0.15, 0.16, 0.17, 0.18, 0.19, 0.20, 0.21, 0.22,
  0.23, 0.24, 0.25, 0.26, 0.27, 0.28, 0.29, 0.30, 0.31, 0.32, 0.33, 0.34,
  0.35, 0.36, 0.37, 0.38, 0.39, 0.40, 0.41, 0.42, 0.43, 0.44
];
const rsiTicks = [80];
const countdown = "07:15:41";

const UP = "#089981";
const DOWN = "#f23645";
const UP_VOL = "rgba(8,153,129,0.5)";
const DOWN_VOL = "rgba(242,54,69,0.5)";
const GREEN = "#2e9a38";
const BLUE = "#5b9cf6";
const ORANGE = "#ff9800";
const GRID = "rgba(42,46,57,0.06)";
const FONT = '"Noto Sans", "Open Sans", sans-serif';
const X_MIN = -3.19;
const X_MAX = 485.9;

Chart.defaults.font.family = FONT;
Chart.defaults.color = "#131722";

const lastOf = (arr) => {
  const v = arr[arr.length - 1];
  return Array.isArray(v) ? v[1] : v;
};
const toPoints = (pairs) => pairs.map((p) => ({ x: p[0], y: p[1] }));

const candles = closes.map((c, i) => {
  const o = i === 0 ? firstOpen : closes[i - 1];
  return { x: startDay + i, o: o, c: c, h: highs[i] ?? Math.max(o, c), l: lows[i] ?? Math.min(o, c) };
});

const bodyData = candles.map((k) => ({ x: k.x, y: [k.o, k.c], up: k.c >= k.o }));
const wickData = candles.map((k) => ({
  x: k.x,
  y: [Math.min(k.l, k.o, k.c), Math.max(k.h, k.o, k.c)],
  up: k.c >= k.o,
}));
const volData = volumes.map((v, i) => ({ x: startDay + i, y: v, up: candles[i] ? candles[i].c >= candles[i].o : true }));

function drawTag(ctx, x, y, w, h, bg, lines, align) {
  ctx.fillStyle = bg;
  ctx.beginPath();
  if (ctx.roundRect) ctx.roundRect(x, y, w, h, 2);
  else ctx.rect(x, y, w, h);
  ctx.fill();
  ctx.font = "600 11.5px " + FONT;
  ctx.textBaseline = "middle";
  ctx.textAlign = align === "center" ? "center" : "left";
  lines.forEach((line, i) => {
    ctx.fillStyle = line[1];
    const tx = align === "center" ? x + w / 2 : x + 8;
    ctx.fillText(line[0], tx, y + 8 + i * 15);
  });
}

const priceTags = {
  id: "priceTags",
  afterDraw(chart) {
    const { ctx, chartArea: area, scales } = chart;
    const y = scales.y;
    const last = lastOf(closes);
    const py = Math.round(y.getPixelForValue(last));

    ctx.save();
    ctx.strokeStyle = UP;
    ctx.lineWidth = 1;
    ctx.setLineDash([1, 3]);
    ctx.beginPath();
    ctx.moveTo(area.left, py + 0.5);
    ctx.lineTo(area.right, py + 0.5);
    ctx.stroke();
    ctx.setLineDash([]);

    const left = area.right + 1;
    const top = py - 7;
    const emaTags = [
      { v: lastOf(ema200), bg: "#000000", fg: "#ffffff" },
      { v: lastOf(ema50), bg: BLUE, fg: "#ffffff" },
      { v: lastOf(ema20), bg: GREEN, fg: "#ffffff" },
      { v: lastOf(ema100), bg: ORANGE, fg: "#131722" },
    ];
    const above = emaTags.filter((t) => t.v >= last).sort((a, b) => a.v - b.v);
    const below = emaTags.filter((t) => t.v < last).sort((a, b) => b.v - a.v);

    let edge = top;
    above.forEach((t) => {
      const c = Math.min(y.getPixelForValue(t.v), edge - 8);
      drawTag(ctx, left, c - 8, 49, 16, t.bg, [[t.v.toFixed(4), t.fg]]);
      edge = c - 8;
    });
    edge = top + 30;
    below.forEach((t) => {
      const c = Math.max(y.getPixelForValue(t.v), edge + 8);
      drawTag(ctx, left, c - 8, 49, 16, t.bg, [[t.v.toFixed(4), t.fg]]);
      edge = c + 8;
    });

    drawTag(ctx, left, top, 60, 30, UP, [[last.toFixed(4), "#ffffff"], [countdown, "rgba(255,255,255,0.82)"]]);
    drawTag(ctx, area.right - 58, top, 57, 16, UP, [["XLMUSDT", "#ffffff"]], "center");

    const vol = lastOf(volumes);
    const vc = Math.min(scales.yVol.getPixelForValue(vol) - 4, area.bottom - 9);
    drawTag(ctx, left, vc - 8, 52, 16, "#26a69a", [[vol.toFixed(2) + "M", "#ffffff"]]);
    ctx.restore();
  },
};

const rsiDecor = {
  id: "rsiDecor",
  beforeDatasetsDraw(chart) {
    const { ctx, chartArea: a, scales } = chart;
    const y = scales.y;
    const y70 = y.getPixelForValue(70);
    const y50 = y.getPixelForValue(50);
    const y30 = y.getPixelForValue(30);
    ctx.save();
    ctx.fillStyle = "rgba(126,87,194,0.1)";
    ctx.fillRect(a.left, y70, a.right - a.left, y30 - y70);
    ctx.lineWidth = 1;
    ctx.setLineDash([4, 4]);
    ctx.strokeStyle = "#787b86";
    [y70, y30].forEach((yy) => {
      ctx.beginPath();
      ctx.moveTo(a.left, Math.round(yy) + 0.5);
      ctx.lineTo(a.right, Math.round(yy) + 0.5);
      ctx.stroke();
    });
    ctx.strokeStyle = "rgba(120,123,134,0.5)";
    ctx.beginPath();
    ctx.moveTo(a.left, Math.round(y50) + 0.5);
    ctx.lineTo(a.right, Math.round(y50) + 0.5);
    ctx.stroke();
    ctx.restore();
  },
  afterDraw(chart) {
    const { ctx, chartArea: a, scales } = chart;
    const y = scales.y;
    const left = a.right + 1;
    const rsiLast = lastOf(rsiLine);
    const maLast = lastOf(rsiMa);
    ctx.save();
    const c1 = y.getPixelForValue(rsiLast);
    drawTag(ctx, left, c1 - 8, 42, 16, "#7e57c2", [[rsiLast.toFixed(2), "#ffffff"]]);
    const c2 = Math.max(y.getPixelForValue(maLast), c1 + 16);
    drawTag(ctx, left, c2 - 8, 42, 16, "#ffeb3b", [[maLast.toFixed(2), "#131722"]]);
    ctx.restore();
  },
};

const monthTicks = (scale) => {
  scale.ticks = monthStarts.map((v) => ({ value: v }));
};

new Chart(document.getElementById("mainChart"), {
  type: "bar",
  data: {
    datasets: [
      {
        type: "line", label: "EMA 20", data: toPoints(ema20), borderColor: GREEN, borderWidth: 1,
        pointRadius: 0, cubicInterpolationMode: "monotone", order: 0,
      },
      {
        type: "line", label: "EMA 50", data: toPoints(ema50), borderColor: BLUE, borderWidth: 3,
        pointRadius: 0, cubicInterpolationMode: "monotone", order: 1,
      },
      {
        type: "line", label: "EMA 100", data: toPoints(ema100), borderColor: ORANGE, borderWidth: 3.5,
        pointRadius: 0, cubicInterpolationMode: "monotone", order: 2,
      },
      {
        type: "line", label: "EMA 200", data: toPoints(ema200), borderColor: "#000000", borderWidth: 2.5,
        pointRadius: 0, cubicInterpolationMode: "monotone", order: 3,
      },
      {
        label: "body", data: bodyData, grouped: false, barThickness: 2.7, minBarLength: 1, inflateAmount: 0,
        backgroundColor: (c) => (c.raw && c.raw.up ? UP : DOWN), order: 5,
      },
      {
        label: "wick", data: wickData, grouped: false, barThickness: 1, inflateAmount: 0,
        backgroundColor: (c) => (c.raw && c.raw.up ? UP : DOWN), order: 6,
      },
      {
        label: "volume", data: volData, yAxisID: "yVol", grouped: false, barThickness: 3, inflateAmount: 0,
        backgroundColor: (c) => (c.raw && c.raw.up ? UP_VOL : DOWN_VOL), order: 10,
      },
    ],
  },
  options: {
    responsive: true,
    maintainAspectRatio: false,
    animation: false,
    layout: { padding: 0 },
    plugins: { legend: { display: false }, tooltip: { enabled: false } },
    scales: {
      x: {
        type: "linear", min: X_MIN, max: X_MAX, offset: false,
        ticks: { display: false },
        grid: { color: GRID, drawTicks: false, offset: false },
        border: { display: false },
        afterBuildTicks: monthTicks,
        afterFit: (s) => { s.height = 0; s.paddingLeft = 0; s.paddingRight = 0; },
      },
      y: {
        position: "right", min: 0.10799, max: 0.44797,
        afterBuildTicks: (s) => { s.ticks = priceTicks.map((v) => ({ value: v })); },
        ticks: {
          padding: 10, color: "#131722",
          callback: (v) => Number(v).toFixed(4),
          font: (c) => ({
            size: 11.5, family: FONT,
            weight: c.tick && Math.abs(Math.round(c.tick.value * 20) - c.tick.value * 20) < 1e-6 ? "bold" : "normal",
          }),
        },
        grid: { color: GRID, drawTicks: false },
        border: { display: false },
        afterFit: (s) => { s.width = 66; s.paddingTop = 0; s.paddingBottom = 0; },
      },
      yVol: { display: false, min: 0, max: 4700 },
    },
  },
  plugins: [priceTags],
});

new Chart(document.getElementById("rsiChart"), {
  type: "line",
  data: {
    datasets: [
      {
        label: "RSI", data: toPoints(rsiLine), borderColor: "#7e57c2", borderWidth: 1, pointRadius: 0, tension: 0,
        fill: { target: { value: 70 }, above: "rgba(76,175,80,0.45)", below: "rgba(0,0,0,0)" }, order: 0,
      },
      {
        label: "RSI MA", data: toPoints(rsiMa), borderColor: "rgba(253,216,53,0.75)", borderWidth: 2,
        pointRadius: 0, cubicInterpolationMode: "monotone", fill: false, order: 1,
      },
    ],
  },
  options: {
    responsive: true,
    maintainAspectRatio: false,
    animation: false,
    layout: { padding: 0 },
    plugins: { legend: { display: false }, tooltip: { enabled: false } },
    scales: {
      x: {
        type: "linear", min: X_MIN, max: X_MAX,
        afterBuildTicks: monthTicks,
        ticks: {
          autoSkip: false, maxRotation: 0, padding: 8, color: "#131722",
          callback: (v) => {
            const i = monthStarts.indexOf(v);
            return i >= 0 ? monthLabels[i] : "";
          },
          font: (c) => ({ size: 11.5, family: FONT, weight: c.tick && c.tick.value === 245 ? "bold" : "normal" }),
        },
        grid: { color: GRID, drawTicks: false },
        border: { display: false },
        afterFit: (s) => { s.height = 27; s.paddingLeft = 0; s.paddingRight = 0; },
      },
      y: {
        position: "right", min: 12.44, max: 98.29,
        afterBuildTicks: (s) => { s.ticks = rsiTicks.map((v) => ({ value: v })); },
        ticks: { padding: 10, color: "#131722", font: { size: 11.5 }, callback: (v) => Number(v).toFixed(2) },
        grid: { color: GRID, drawTicks: false },
        border: { display: false },
        afterFit: (s) => { s.width = 66; s.paddingTop = 0; s.paddingBottom = 0; },
      },
    },
  },
  plugins: [rsiDecor],
});
</script>
</body>
</html>
